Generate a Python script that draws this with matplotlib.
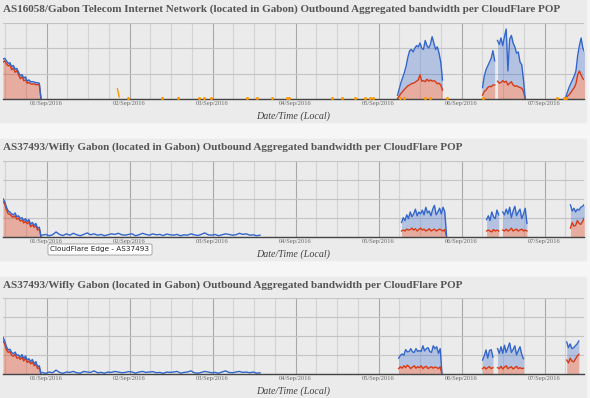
import matplotlib
matplotlib.use("Agg")
import matplotlib.pyplot as plt
from matplotlib.patches import Rectangle
import numpy as np
import pandas as pd

BLUE = "#3366cc"
RED = "#dc3912"
ORANGE = "#ff9900"
PANEL_BG = "#ebebeb"

titles = [
    "AS16058/Gabon Telecom Internet Network (located in Gabon) Outbound Aggregated bandwidth per CloudFlare POP",
    "AS37493/Wifly Gabon (located in Gabon) Outbound Aggregated bandwidth per CloudFlare POP",
    "AS37493/Wifly Gabon (located in Gabon) Outbound Aggregated bandwidth per CloudFlare POP",
]
x_label = "Date/Time (Local)"
day_ticks = ["2016-09-01", "2016-09-02", "2016-09-03", "2016-09-04",
             "2016-09-05", "2016-09-06", "2016-09-07"]
day_labels = ["01/Sep/2016", "02/Sep/2016", "03/Sep/2016", "04/Sep/2016",
              "05/Sep/2016", "06/Sep/2016", "07/Sep/2016"]
x_from = "2016-08-31 11:25"
x_to = "2016-09-07 11:25"
y_max = [3, 4, 4]

# ---- panel 1 : AS16058, half-hourly samples per segment ----
p1_starts = ["2016-08-31 11:25", "2016-09-05 05:30", "2016-09-06 06:05",
             "2016-09-06 10:25", "2016-09-07 06:05"]
p1_red = [
    [1.45, 1.50, 1.38, 1.30, 1.35, 1.15, 1.22, 1.05, 1.12, 0.95, 0.80, 0.88,
     0.72, 0.75, 0.62, 0.65, 0.60, 0.58, 0.60, 0.56, 0.57, 0.55, 0.0],
    [0.03, 0.12, 0.22, 0.30, 0.38, 0.45, 0.52, 0.55, 0.60, 0.62, 0.65, 0.70,
     0.75, 0.95, 0.70, 0.72, 0.68, 0.78, 0.70, 0.75, 0.70, 0.72, 0.68, 0.60,
     0.62, 0.55, 0.35],
    [0.15, 0.30, 0.35, 0.45, 0.50, 0.48, 0.55, 0.55],
    [0.70, 0.62, 0.65, 0.72, 0.66, 0.70, 0.55, 0.62, 0.68, 0.55, 0.50, 0.52,
     0.48, 0.45, 0.42, 0.30, 0.0],
    [0.03, 0.10, 0.16, 0.25, 0.35, 0.45, 0.60, 0.95, 1.10, 0.95, 0.80, 0.75],
]
p1_blue = [
    [0.12, 0.10, 0.12, 0.10, 0.08, 0.12, 0.10, 0.12, 0.08, 0.10, 0.12, 0.08,
     0.10, 0.12, 0.08, 0.10, 0.08, 0.10, 0.07, 0.08, 0.07, 0.07, 0.0],
    [0.12, 0.28, 0.43, 0.55, 0.67, 0.85, 1.13, 1.35, 1.35, 1.23, 1.35, 1.40,
     1.30, 1.25, 1.30, 1.23, 1.62, 1.32, 1.30, 1.40, 1.75, 1.48, 1.27, 1.45,
     1.18, 0.90, 0.40],
    [0.30, 0.60, 0.80, 0.85, 0.95, 1.12, 1.35, 0.95],
    [1.60, 1.53, 1.75, 1.38, 1.79, 2.05, 0.55, 1.73, 1.82, 1.65, 1.55, 1.28,
     1.37, 1.00, 0.93, 0.45, 0.0],
    [0.02, 0.15, 0.29, 0.35, 0.40, 0.45, 0.50, 0.75, 1.00, 1.45, 1.20, 1.10],
]
p1_orange_t = ["2016-09-01 23:25", "2016-09-02 09:30", "2016-09-02 13:55",
               "2016-09-02 20:00", "2016-09-02 21:40", "2016-09-02 23:25",
               "2016-09-03 10:05", "2016-09-03 13:00", "2016-09-03 17:05",
               "2016-09-03 21:25", "2016-09-03 22:15", "2016-09-04 10:40",
               "2016-09-04 13:35", "2016-09-04 17:05", "2016-09-04 20:00",
               "2016-09-04 21:25", "2016-09-04 22:20", "2016-09-05 06:05",
               "2016-09-05 07:30", "2016-09-05 13:20", "2016-09-05 14:45",
               "2016-09-05 19:40", "2016-09-06 06:05", "2016-09-07 03:30",
               "2016-09-07 05:30", "2016-09-07 06:05"]
p1_orange_v = [0.03, 0.02, 0.02, 0.03, 0.02, 0.02, 0.02, 0.03, 0.03, 0.02,
               0.03, 0.02, 0.02, 0.03, 0.02, 0.02, 0.03, 0.02, 0.03, 0.03,
               0.02, 0.02, 0.05, 0.02, 0.04, 0.05]
p1_spike_t = ["2016-09-01 20:30", "2016-09-01 21:00"]
p1_spike_v = [0.40, 0.08]

# ---- panel 2 : AS37493 ----
p2_starts = ["2016-08-31 11:25", "2016-09-05 06:40", "2016-09-06 07:15",
             "2016-09-06 11:55", "2016-09-07 07:30"]
p2_red = [
    [1.85, 1.72, 1.42, 1.20, 1.18, 1.08, 1.02, 1.10, 0.92, 0.98, 0.82, 0.88,
     0.72, 0.82, 0.68, 0.78, 0.52, 0.62, 0.50, 0.58, 0.35, 0.40, 0.0],
    [0.30, 0.35, 0.30, 0.40, 0.35, 0.38, 0.45, 0.35, 0.42, 0.30, 0.38, 0.45,
     0.35, 0.40, 0.30, 0.35, 0.42, 0.30, 0.35, 0.40, 0.30, 0.35, 0.40, 0.35,
     0.30, 0.38, 0.0],
    [0.30, 0.35, 0.30, 0.25, 0.38, 0.30, 0.35, 0.30],
    [0.35, 0.30, 0.40, 0.30, 0.35, 0.45, 0.30, 0.35, 0.40, 0.30, 0.35, 0.40,
     0.30, 0.35, 0.30],
    [0.45, 0.75, 0.55, 0.60, 0.85, 0.70, 0.65, 0.80, 1.00],
]
p2_blue = [
    [0.15, 0.13, 0.13, 0.15, 0.12, 0.12, 0.13, 0.15, 0.13, 0.12, 0.13, 0.12,
     0.13, 0.13, 0.12, 0.12, 0.13, 0.13, 0.10, 0.12, 0.10, 0.10, 0.0],
    [0.45, 0.65, 0.55, 0.75, 0.60, 0.92, 0.60, 0.85, 1.03, 0.80, 0.92, 0.75,
     1.05, 0.75, 1.25, 0.90, 0.93, 0.80, 1.10, 1.25, 0.85, 0.95, 1.10, 0.85,
     1.25, 0.92, 0.05],
    [0.60, 0.75, 0.55, 1.05, 0.67, 0.65, 1.05, 0.85],
    [0.95, 0.85, 1.05, 0.90, 1.20, 0.55, 1.05, 1.25, 0.70, 1.00, 1.10, 0.55,
     0.90, 1.15, 0.40],
    [1.22, 0.60, 0.95, 0.70, 0.60, 0.70, 0.90, 0.80, 0.70],
]
p2_trickle_start = "2016-08-31 22:45"
p2_trickle = [0.08, 0.12, 0.05, 0.10, 0.25, 0.12, 0.06, 0.15, 0.08, 0.18,
              0.10, 0.05, 0.12, 0.20, 0.10, 0.15, 0.08, 0.12, 0.05, 0.10,
              0.15, 0.12, 0.18, 0.10, 0.08, 0.12, 0.15, 0.05, 0.10, 0.18,
              0.12, 0.08, 0.15, 0.10, 0.12, 0.06, 0.14, 0.10, 0.08, 0.12,
              0.05, 0.10, 0.08, 0.15, 0.10, 0.06, 0.12, 0.20, 0.10, 0.08,
              0.12, 0.05, 0.10, 0.15, 0.12, 0.08, 0.10, 0.18, 0.12, 0.15,
              0.08, 0.10, 0.05, 0.08]

# ---- panel 3 : AS37493 (second capture) ----
p3_starts = ["2016-08-31 11:25", "2016-09-05 05:50", "2016-09-06 06:05",
             "2016-09-06 10:25", "2016-09-07 06:25"]
p3_red = [
    [1.75, 1.60, 1.30, 1.15, 1.20, 1.00, 0.95, 1.05, 0.85, 0.90, 0.78, 0.92,
     0.70, 0.85, 0.62, 0.70, 0.55, 0.65, 0.45, 0.55, 0.30, 0.35, 0.0],
    [0.30, 0.40, 0.32, 0.45, 0.35, 0.48, 0.40, 0.30, 0.38, 0.45, 0.32, 0.40,
     0.35, 0.45, 0.30, 0.38, 0.42, 0.30, 0.36, 0.40, 0.32, 0.38, 0.35, 0.30,
     0.40, 0.0],
    [0.30, 0.38, 0.28, 0.35, 0.40, 0.30, 0.35],
    [0.35, 0.30, 0.42, 0.28, 0.38, 0.45, 0.30, 0.35, 0.40, 0.28, 0.35, 0.42,
     0.30, 0.35, 0.30, 0.32],
    [0.75, 0.60, 0.85, 0.70, 0.65, 0.80, 0.95, 1.05],
]
p3_blue = [
    [0.20, 0.15, 0.15, 0.13, 0.12, 0.15, 0.13, 0.12, 0.15, 0.12, 0.13, 0.12,
     0.13, 0.12, 0.13, 0.12, 0.12, 0.13, 0.10, 0.12, 0.10, 0.10, 0.0],
    [0.55, 0.60, 0.75, 0.55, 0.95, 0.70, 0.80, 1.05, 0.80, 0.70, 1.03, 0.80,
     0.90, 0.75, 1.20, 0.85, 0.93, 1.10, 0.84, 0.75, 1.18, 0.97, 1.10, 0.80,
     0.95, 0.05],
    [0.45, 0.60, 1.00, 0.50, 0.85, 1.00, 0.55],
    [1.00, 0.80, 1.03, 0.82, 1.15, 0.70, 1.10, 1.30, 0.75, 1.02, 1.15, 0.60,
     0.95, 1.10, 0.75, 0.50],
    [0.95, 0.80, 0.75, 0.65, 0.75, 0.70, 0.65, 0.70],
]
p3_trickle_start = "2016-08-31 22:45"
p3_trickle = [0.10, 0.05, 0.12, 0.08, 0.22, 0.10, 0.05, 0.12, 0.10, 0.15,
              0.08, 0.06, 0.15, 0.12, 0.10, 0.18, 0.08, 0.10, 0.06, 0.12,
              0.10, 0.15, 0.12, 0.08, 0.10, 0.14, 0.12, 0.06, 0.12, 0.15,
              0.10, 0.12, 0.14, 0.08, 0.10, 0.05, 0.12, 0.10, 0.12, 0.15,
              0.06, 0.10, 0.12, 0.18, 0.08, 0.06, 0.10, 0.15, 0.12, 0.08,
              0.10, 0.06, 0.12, 0.18, 0.10, 0.08, 0.12, 0.15, 0.10, 0.12,
              0.08, 0.12, 0.06, 0.08]

tooltip = "CloudFlare Edge - AS37493"


def draw_segments(ax, starts, reds, blues, freq="30min"):
    for st, r, b in zip(starts, reds, blues):
        t = pd.date_range(st, periods=len(r), freq=freq)
        r = np.array(r)
        top = r + np.array(b)
        ax.fill_between(t, 0, r, color=RED, alpha=0.35, lw=0)
        ax.fill_between(t, r, top, color=BLUE, alpha=0.3, lw=0)
        ax.plot(t, r, color=RED, lw=1.0)
        ax.plot(t, top, color=BLUE, lw=1.0)


def draw_trickle(ax, start, vals):
    t = pd.date_range(start, periods=len(vals), freq="1h")
    ax.plot(t, vals, color=BLUE, lw=1.0)


plt.rcParams["font.family"] = ["Liberation Serif", "DejaVu Serif"]
fig = plt.figure(figsize=(5.9, 3.98), dpi=100, facecolor="#f6f6f6")

W, H = 590.0, 398.0
panel_boxes = [(0, 122), (139, 260), (277, 398)]
for y0, y1 in panel_boxes:
    fig.patches.append(Rectangle((0, 1 - y1 / H), 586 / W, (y1 - y0) / H,
                                 transform=fig.transFigure, color=PANEL_BG,
                                 zorder=-10))

axes_tb = [(22.7, 99.0), (160.7, 236.7), (298.3, 374.3)]
axes = []
for i, (top, bot) in enumerate(axes_tb):
    ax = fig.add_axes([3 / W, 1 - bot / H, 581 / W, (bot - top) / H])
    ax.set_facecolor(PANEL_BG)
    ax.set_xlim(pd.Timestamp(x_from), pd.Timestamp(x_to))
    ax.set_ylim(0, y_max[i])
    ax.set_yticks(range(y_max[i] + 1))
    ax.set_yticklabels([])
    ax.tick_params(axis="y", length=0)
    majors = pd.to_datetime(day_ticks)
    minors = pd.date_range("2016-08-31 12:00", "2016-09-07 06:00", freq="6h")
    ax.set_xticks(majors)
    ax.set_xticklabels(day_labels, fontsize=4.7, color="#666666")
    ax.set_xticks(minors, minor=True)
    ax.tick_params(axis="x", which="both", length=0, pad=1.5)
    ax.grid(True, axis="y", color="#c4c4c4", lw=0.8)
    ax.grid(True, axis="x", which="minor", color="#d2d2d2", lw=0.8)
    ax.grid(True, axis="x", which="major", color="#a8a8a8", lw=0.8)
    ax.set_axisbelow(True)
    for s in ["top", "left", "right"]:
        ax.spines[s].set_visible(False)
    ax.spines["bottom"].set_color("#444444")
    ax.spines["bottom"].set_linewidth(1.0)
    ax.spines["bottom"].set_zorder(5)
    ax.annotate(titles[i], xy=(0, 1), xycoords="axes fraction",
                xytext=(0, 9.5), textcoords="offset points", ha="left",
                va="center", fontsize=8.0, fontweight="bold", color="#555555")
    ax.annotate(x_label, xy=(0.5, 0), xycoords="axes fraction",
                xytext=(0, -12.3), textcoords="offset points", ha="center",
                va="center", fontsize=7.2, style="italic", color="#444444")
    axes.append(ax)

draw_segments(axes[0], p1_starts, p1_red, p1_blue)
axes[0].plot(pd.to_datetime(p1_spike_t), p1_spike_v, color=ORANGE, lw=1.0)
axes[0].plot(pd.to_datetime(p1_orange_t), p1_orange_v, "o", color=ORANGE,
             ms=2.2, mew=0, zorder=6)

draw_segments(axes[1], p2_starts, p2_red, p2_blue)
draw_trickle(axes[1], p2_trickle_start, p2_trickle)

draw_segments(axes[2], p3_starts, p3_red, p3_blue)
draw_trickle(axes[2], p3_trickle_start, p3_trickle)

fig.text(100 / W, 1 - 249.5 / H, tooltip, ha="center", va="center",
         fontsize=5.2, family="DejaVu Sans", color="#222222", zorder=10,
         bbox=dict(boxstyle="round,pad=0.35,rounding_size=0.2", fc="white",
                   ec="#999999", lw=0.6))

fig.savefig("out.png", dpi=100, facecolor=fig.get_facecolor())
